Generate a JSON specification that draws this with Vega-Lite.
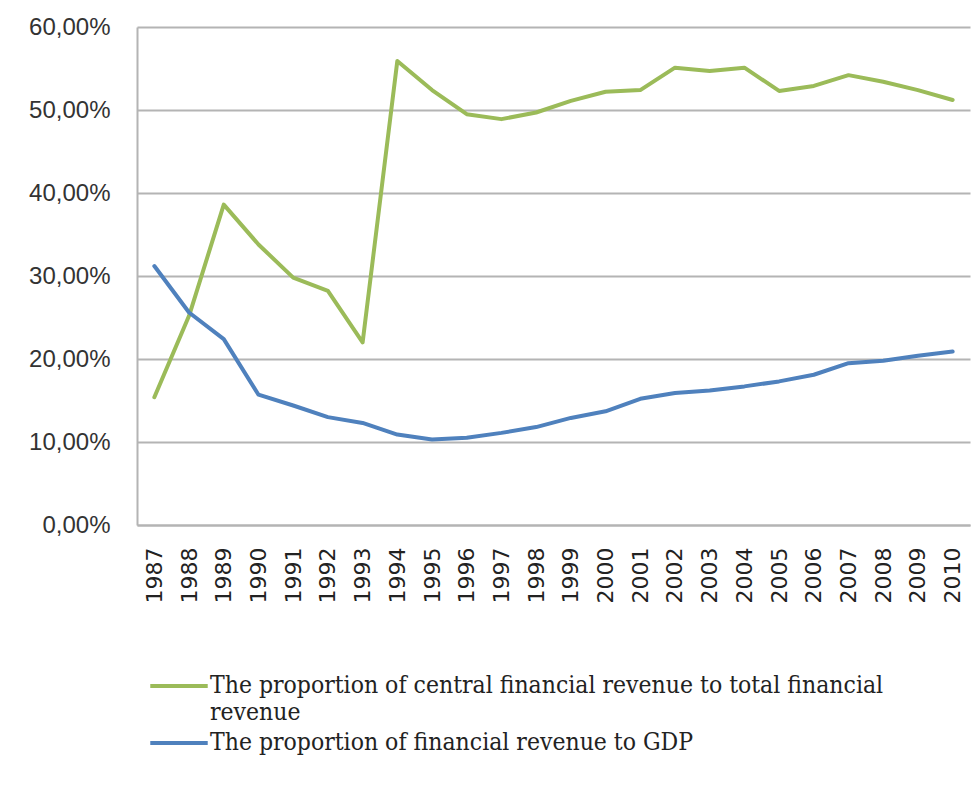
{
  "$schema": "https://vega.github.io/schema/vega-lite/v6.json",
  "width": 833,
  "height": 498,
  "autosize": "none",
  "padding": {"left": 137, "top": 27, "right": 6, "bottom": 271},
  "background": "white",
  "data": {"values": [
    {"year": "1987", "s": "central", "v": 0.154},
    {"year": "1988", "s": "central", "v": 0.252},
    {"year": "1989", "s": "central", "v": 0.386},
    {"year": "1990", "s": "central", "v": 0.338},
    {"year": "1991", "s": "central", "v": 0.298},
    {"year": "1992", "s": "central", "v": 0.282},
    {"year": "1993", "s": "central", "v": 0.220},
    {"year": "1994", "s": "central", "v": 0.559},
    {"year": "1995", "s": "central", "v": 0.524},
    {"year": "1996", "s": "central", "v": 0.495},
    {"year": "1997", "s": "central", "v": 0.489},
    {"year": "1998", "s": "central", "v": 0.497},
    {"year": "1999", "s": "central", "v": 0.511},
    {"year": "2000", "s": "central", "v": 0.522},
    {"year": "2001", "s": "central", "v": 0.524},
    {"year": "2002", "s": "central", "v": 0.551},
    {"year": "2003", "s": "central", "v": 0.547},
    {"year": "2004", "s": "central", "v": 0.551},
    {"year": "2005", "s": "central", "v": 0.523},
    {"year": "2006", "s": "central", "v": 0.529},
    {"year": "2007", "s": "central", "v": 0.542},
    {"year": "2008", "s": "central", "v": 0.534},
    {"year": "2009", "s": "central", "v": 0.524},
    {"year": "2010", "s": "central", "v": 0.512},
    {"year": "1987", "s": "gdp", "v": 0.312},
    {"year": "1988", "s": "gdp", "v": 0.256},
    {"year": "1989", "s": "gdp", "v": 0.224},
    {"year": "1990", "s": "gdp", "v": 0.157},
    {"year": "1991", "s": "gdp", "v": 0.144},
    {"year": "1992", "s": "gdp", "v": 0.130},
    {"year": "1993", "s": "gdp", "v": 0.123},
    {"year": "1994", "s": "gdp", "v": 0.109},
    {"year": "1995", "s": "gdp", "v": 0.103},
    {"year": "1996", "s": "gdp", "v": 0.105},
    {"year": "1997", "s": "gdp", "v": 0.111},
    {"year": "1998", "s": "gdp", "v": 0.118},
    {"year": "1999", "s": "gdp", "v": 0.129},
    {"year": "2000", "s": "gdp", "v": 0.137},
    {"year": "2001", "s": "gdp", "v": 0.152},
    {"year": "2002", "s": "gdp", "v": 0.159},
    {"year": "2003", "s": "gdp", "v": 0.162},
    {"year": "2004", "s": "gdp", "v": 0.167},
    {"year": "2005", "s": "gdp", "v": 0.173},
    {"year": "2006", "s": "gdp", "v": 0.181},
    {"year": "2007", "s": "gdp", "v": 0.195},
    {"year": "2008", "s": "gdp", "v": 0.198},
    {"year": "2009", "s": "gdp", "v": 0.204},
    {"year": "2010", "s": "gdp", "v": 0.209}
  ]},
  "mark": {"type": "line", "strokeWidth": 4, "strokeJoin": "round", "strokeCap": "round"},
  "encoding": {
    "x": {
      "field": "year", "type": "ordinal",
      "scale": {"type": "point", "padding": 0.5},
      "axis": {
        "title": null, "labelAngle": 270, "labelAlign": "right", "labelBaseline": "middle",
        "labelFont": "DejaVu Sans", "labelFontSize": 22, "labelColor": "#222",
        "labelPadding": 22, "ticks": false, "domain": true, "domainColor": "#b4b4b4", "domainWidth": 2,
        "grid": false
      }
    },
    "y": {
      "field": "v", "type": "quantitative",
      "scale": {"domain": [0, 0.6], "nice": false},
      "axis": {
        "title": null, "values": [0, 0.1, 0.2, 0.3, 0.4, 0.5, 0.6],
        "labelExpr": "replace(format(datum.value, '.2%'), '.', ',')",
        "labelFont": "Liberation Sans", "labelFontSize": 24, "labelColor": "#333",
        "labelPadding": 27, "ticks": false, "domain": true, "domainColor": "#b4b4b4", "domainWidth": 2,
        "grid": true, "gridColor": "#b4b4b4", "gridWidth": 2
      }
    },
    "color": {
      "field": "s", "type": "nominal",
      "scale": {"domain": ["central", "gdp"], "range": ["#9BBB59", "#4F81BD"]},
      "legend": {
        "title": null, "orient": "none", "legendX": 11, "legendY": 628, "direction": "vertical",
        "symbolType": "stroke", "symbolSize": 3300, "symbolStrokeWidth": 4,
        "labelFont": "DejaVu Serif Condensed", "labelFontSize": 24.5, "labelColor": "#222",
        "labelOffset": 0, "labelLimit": 900, "rowPadding": -12, "gridAlign": "none",
        "labelExpr": "datum.value == 'central' ? ['The proportion of central financial revenue to total financial', 'revenue'] : 'The proportion of financial revenue to GDP'"
      }
    }
  },
  "config": {"view": {"stroke": null}}
}
